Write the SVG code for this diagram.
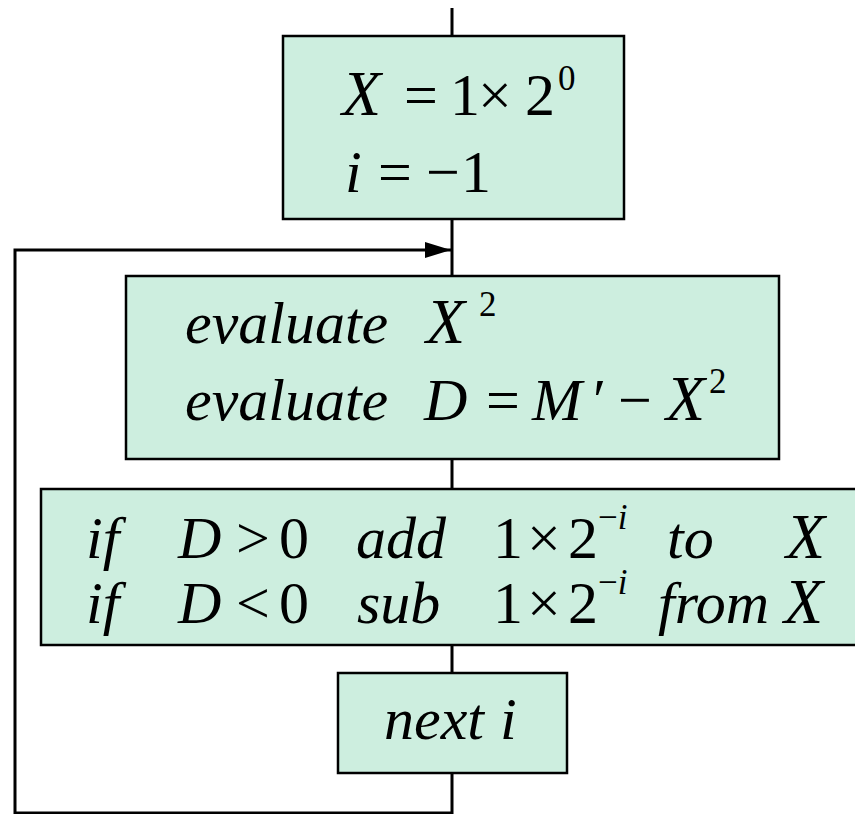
<svg xmlns="http://www.w3.org/2000/svg" width="855" height="814" viewBox="0 0 855 814">
<style>
.box{fill:#cdeedf;stroke:#000;stroke-width:2.5}
.ln{fill:none;stroke:#000;stroke-width:3}
text{font-family:"Liberation Serif","Times New Roman",serif;font-size:60px;fill:#000}
.it{font-style:italic}
.x{font-size:64px}
.sup{font-size:35px}
</style>
<defs>
<marker id="ah" markerWidth="26" markerHeight="16" refX="26" refY="8" orient="auto" markerUnits="userSpaceOnUse">
<path d="M0,0 L26,8 L0,16 Z" fill="#000"/>
</marker>
</defs>
<rect width="855" height="814" fill="#fff"/>
<g id="connectors">
<line class="ln" x1="452" y1="8" x2="452" y2="814"/>
<polyline class="ln" points="452,813 15,813 15,250 451,250" marker-end="url(#ah)"/>
</g>
<g id="init">
<rect class="box" x="283" y="36" width="341" height="183"/>
<text class="it x" x="342" y="115">X</text>
<text x="404" y="115">=</text>
<text x="450" y="115">1</text>
<text x="478" y="115">×</text>
<text x="525" y="115">2</text>
<text class="sup" x="558" y="90">0</text>
<text class="it" x="345" y="192">i</text>
<text x="378" y="192">=</text>
<text x="426" y="192">−</text>
<text x="461" y="192">1</text>
</g>
<g id="evaluate">
<rect class="box" x="126" y="276" width="653" height="183"/>
<text class="it" x="185" y="343">evaluate</text>
<text class="it x" x="426" y="343">X</text>
<text class="sup" x="479" y="316">2</text>
<text class="it" x="185" y="420">evaluate</text>
<text class="it" x="424" y="420">D</text>
<text x="486" y="420">=</text>
<text class="it" x="532" y="420">M</text>
<text x="593" y="420">′</text>
<text x="618" y="420">−</text>
<text class="it x" x="666" y="420">X</text>
<text class="sup" x="709" y="393">2</text>
</g>
<g id="update">
<rect class="box" x="41" y="489" width="830" height="156"/>
<text class="it" x="86" y="558">if</text>
<text class="it" x="178" y="558">D</text>
<text x="236" y="558">&gt;</text>
<text x="279" y="558">0</text>
<text class="it" x="356" y="558">add</text>
<text x="493" y="558">1</text>
<text x="527" y="558">×</text>
<text x="568" y="558">2</text>
<text class="sup" x="598" y="529">−<tspan class="it">i</tspan></text>
<text class="it" x="667" y="558">to</text>
<text class="it x" x="786" y="558">X</text>
<text class="it" x="86" y="623">if</text>
<text class="it" x="178" y="623">D</text>
<text x="236" y="623">&lt;</text>
<text x="279" y="623">0</text>
<text class="it" x="357" y="623">sub</text>
<text x="493" y="623">1</text>
<text x="527" y="623">×</text>
<text x="568" y="623">2</text>
<text class="sup" x="598" y="594">−<tspan class="it">i</tspan></text>
<text class="it" x="658" y="623">from</text>
<text class="it x" x="784" y="623">X</text>
</g>
<g id="next">
<rect class="box" x="338" y="673" width="229" height="100"/>
<text class="it" x="384" y="739">next</text>
<text class="it" x="500" y="739">i</text>
</g>
</svg>
